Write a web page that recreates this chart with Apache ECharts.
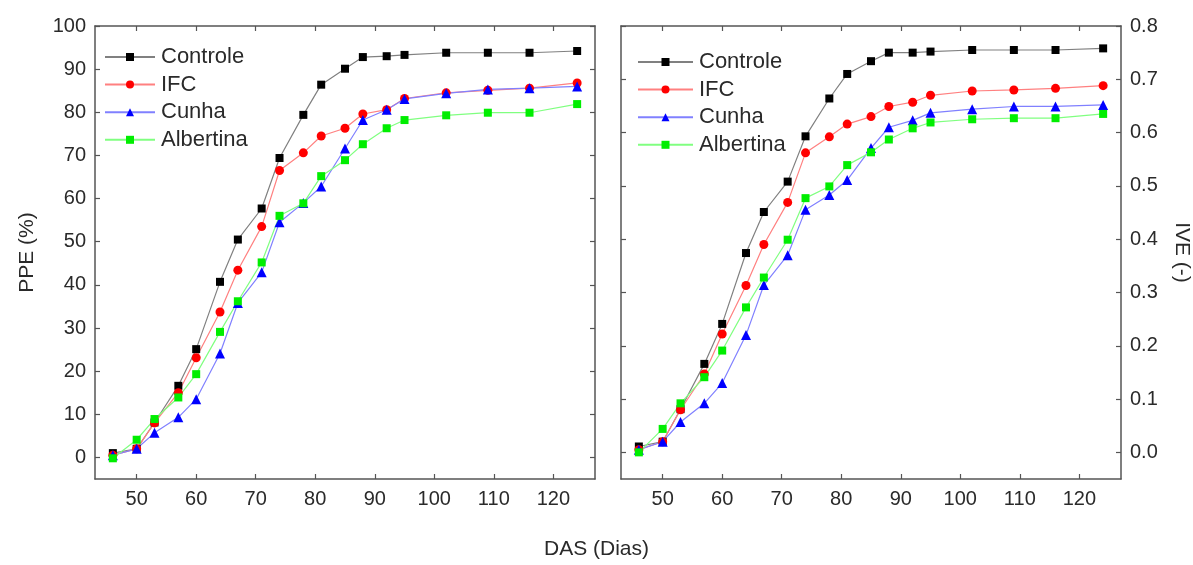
<!DOCTYPE html>
<html>
<head>
<meta charset="utf-8">
<script src="https://cdn.jsdelivr.net/npm/echarts@6/dist/echarts.min.js"></script>
<style>
html,body{margin:0;padding:0;background:#fff;}
#chart{width:1193px;height:565px;}
</style>
</head>
<body>
<div id="chart"></div>
<script>
// ---- data ----
const das = [46, 50, 53, 57, 60, 64, 67, 71, 74, 78, 81, 85, 88, 92, 95, 102, 109, 116, 124];
const seriesNames = ['Controle', 'IFC', 'Cunha', 'Albertina'];

const ppeControle  = [1.0, 2.0, 8.1, 16.6, 25.1, 40.7, 50.5, 57.7, 69.4, 79.4, 86.4, 90.1, 92.8, 93.0, 93.3, 93.8, 93.8, 93.8, 94.2];
const ppeIFC       = [0.5, 2.0, 8.0, 15.0, 23.1, 33.7, 43.4, 53.5, 66.5, 70.6, 74.5, 76.3, 79.6, 80.6, 83.2, 84.5, 85.1, 85.6, 86.8];
const ppeCunha     = [0.5, 2.0, 5.7, 9.3, 13.5, 24.1, 35.8, 42.9, 54.5, 59.0, 62.8, 71.6, 78.2, 80.6, 83.1, 84.4, 85.3, 85.6, 86.0];
const ppeAlbertina = [-0.2, 4.1, 8.9, 13.9, 19.3, 29.1, 36.2, 45.2, 56.0, 58.9, 65.2, 68.9, 72.6, 76.3, 78.2, 79.3, 79.9, 79.9, 81.9];

const iveControle  = [0.011, 0.020, 0.081, 0.166, 0.241, 0.374, 0.451, 0.508, 0.593, 0.664, 0.710, 0.734, 0.750, 0.750, 0.752, 0.755, 0.755, 0.755, 0.758];
const iveIFC       = [0.005, 0.020, 0.080, 0.147, 0.222, 0.313, 0.390, 0.469, 0.562, 0.592, 0.616, 0.630, 0.649, 0.657, 0.670, 0.678, 0.680, 0.683, 0.688];
const iveCunha     = [0.005, 0.020, 0.057, 0.092, 0.130, 0.220, 0.314, 0.370, 0.455, 0.483, 0.511, 0.571, 0.610, 0.623, 0.637, 0.644, 0.649, 0.649, 0.652];
const iveAlbertina = [0.000, 0.044, 0.092, 0.141, 0.191, 0.272, 0.328, 0.399, 0.477, 0.499, 0.539, 0.563, 0.587, 0.608, 0.619, 0.625, 0.627, 0.627, 0.635];

const xTicks   = [50, 60, 70, 80, 90, 100, 110, 120];
const ppeTicks = [0, 10, 20, 30, 40, 50, 60, 70, 80, 90, 100];
const iveTicks = [0, 0.1, 0.2, 0.3, 0.4, 0.5, 0.6, 0.7, 0.8];

// ---- styling ----
const FONT = 'Liberation Sans, Arial, sans-serif';
const TXT = '#2a2a2a';
const AXC = '#555';
const styles = {
  Controle:  {color: '#000000', line: '#808080', symbol: 'rect', size: 8},
  IFC:       {color: '#ff0000', line: '#ff8080', symbol: 'circle', size: 9},
  Cunha:     {color: '#0000ff', line: '#8080ff', symbol: 'triangle', size: 10},
  Albertina: {color: '#00ee00', line: '#80ff80', symbol: 'rect', size: 8}
};

function xAxisDef(gridIndex, position) {
  return {
    type: 'value', gridIndex, position, min: 43, max: 127,
    splitLine: {show: false},
    axisLine: {show: true, onZero: false, lineStyle: {color: AXC, width: 1.5}},
    axisTick: {show: true, inside: true, length: 5, customValues: xTicks, lineStyle: {color: AXC, width: 1.2}},
    axisLabel: {show: position === 'bottom', customValues: xTicks, color: TXT, fontSize: 20, fontFamily: FONT, margin: 10}
  };
}
function yAxisDef(gridIndex, position, min, max, ticks, showLabels, fmt) {
  return {
    type: 'value', gridIndex, position, min, max,
    splitLine: {show: false},
    axisLine: {show: true, onZero: false, lineStyle: {color: AXC, width: 1.5}},
    axisTick: {show: true, inside: true, length: 5, customValues: ticks, lineStyle: {color: AXC, width: 1.2}},
    axisLabel: {show: showLabels, customValues: ticks, color: TXT, fontSize: 20, fontFamily: FONT, margin: 9,
      formatter: fmt}
  };
}

const ppeData = {Controle: ppeControle, IFC: ppeIFC, Cunha: ppeCunha, Albertina: ppeAlbertina};
const iveData = {Controle: iveControle, IFC: iveIFC, Cunha: iveCunha, Albertina: iveAlbertina};

const series = [];
seriesNames.forEach(function (name) {
  const s = styles[name];
  series.push({
    name, type: 'line', xAxisIndex: 0, yAxisIndex: 0,
    data: das.map((d, i) => [d, ppeData[name][i]]),
    symbol: s.symbol, symbolSize: s.size, showSymbol: true,
    itemStyle: {color: s.color},
    lineStyle: {color: s.line, width: 1.2},
    emphasis: {disabled: true}
  });
});
seriesNames.forEach(function (name) {
  const s = styles[name];
  series.push({
    name, type: 'line', xAxisIndex: 2, yAxisIndex: 3,
    data: das.map((d, i) => [d, iveData[name][i]]),
    symbol: s.symbol, symbolSize: s.size, showSymbol: true,
    itemStyle: {color: s.color},
    lineStyle: {color: s.line, width: 1.2},
    emphasis: {disabled: true}
  });
});

const legendCommon = {
  orient: 'vertical', data: seriesNames, itemHeight: 10, itemGap: 5.6,
  selectedMode: false,
  textStyle: {color: TXT, fontSize: 22, fontFamily: FONT, padding: [0, 0, 0, 1]}
};

const option = {
  animation: false,
  backgroundColor: '#ffffff',
  title: {
    text: 'DAS (Dias)', left: 'center', top: 534,
    textStyle: {color: TXT, fontSize: 21, fontWeight: 'normal', fontFamily: FONT}
  },
  legend: [
    Object.assign({}, legendCommon, {left: 99, top: 41, itemWidth: 50}),
    Object.assign({}, legendCommon, {left: 632, top: 46, itemWidth: 55})
  ],
  grid: [
    {left: 95, top: 26, width: 500, height: 453, show: false},
    {left: 621, top: 26, width: 500, height: 453, show: false}
  ],
  xAxis: [
    xAxisDef(0, 'bottom'), xAxisDef(0, 'top'),
    xAxisDef(1, 'bottom'), xAxisDef(1, 'top')
  ],
  yAxis: [
    Object.assign(yAxisDef(0, 'left', -5, 100, ppeTicks, true, v => String(v)),
      {name: 'PPE (%)', nameLocation: 'middle', nameGap: 57, nameRotate: 90,
       nameTextStyle: {color: TXT, fontSize: 21, fontFamily: FONT}}),
    yAxisDef(0, 'right', -5, 100, ppeTicks, false, v => String(v)),
    yAxisDef(1, 'left', -0.05, 0.8, iveTicks, false, v => v.toFixed(1)),
    Object.assign(yAxisDef(1, 'right', -0.05, 0.8, iveTicks, true, v => v.toFixed(1)),
      {name: 'IVE (-)', nameLocation: 'middle', nameGap: 50, nameRotate: -90,
       nameTextStyle: {color: TXT, fontSize: 21, fontFamily: FONT}})
  ],
  series
};

const chart = echarts.init(document.getElementById('chart'), null, {renderer: 'canvas'});
chart.setOption(option);
</script>
</body>
</html>
